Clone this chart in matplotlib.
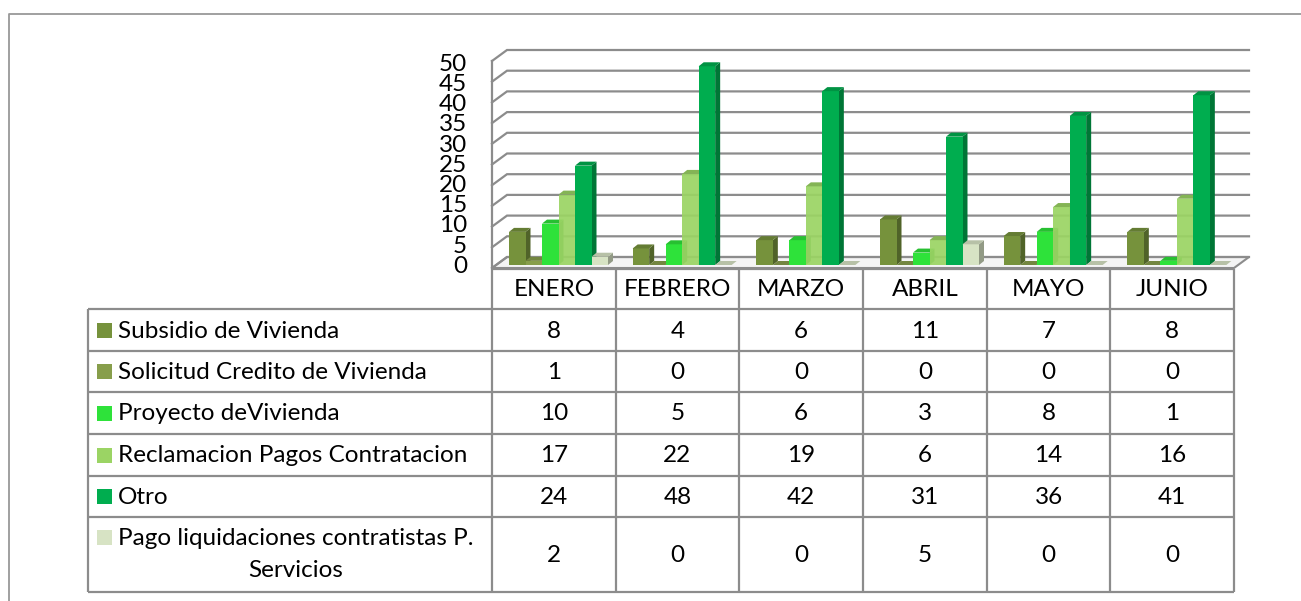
import matplotlib.pyplot as plt
from matplotlib.patches import Polygon, Rectangle
import numpy as np

plt.rcParams['font.family'] = ['Lato', 'DejaVu Sans']

meses = ['ENERO', 'FEBRERO', 'MARZO', 'ABRIL', 'MAYO', 'JUNIO']
series = ['Subsidio de Vivienda', 'Solicitud Credito de Vivienda', 'Proyecto deVivienda',
          'Reclamacion Pagos Contratacion', 'Otro', 'Pago liquidaciones contratistas P.\nServicios']
subsidio = [8, 4, 6, 11, 7, 8]
solicitud = [1, 0, 0, 0, 0, 0]
proyecto = [10, 5, 6, 3, 8, 1]
reclamacion = [17, 22, 19, 6, 14, 16]
otro = [24, 48, 42, 31, 36, 41]
pago = [2, 0, 0, 5, 0, 0]
valores = [subsidio, solicitud, proyecto, reclamacion, otro, pago]
colores = ['#76923c', '#879e4b', '#2ee23a', '#9bd464', '#00ad4f', '#d7e3c4']
yticks = list(range(0, 55, 5))

W, H = 1301, 601
FS = 17.5
fig = plt.figure(figsize=(W / 100, H / 100), dpi=100)

# pixel layer for frame and data table
bg = fig.add_axes([0, 0, 1, 1])
bg.set_xlim(0, W)
bg.set_ylim(H, 0)
bg.axis('off')

GRIS = '#8c8c8c'
bg.plot([9, 9, W], [H, 14, 14], color='#999999', lw=1.3)

# chart area (front bar base at y=265px, columns 492..1234px)
x0px, x1px = 492, 1234
base_px = 265
uy = 4.14  # px per unit
ux = (x1px - x0px) / len(meses)
ax = fig.add_axes([x0px / W, (H - base_px) / H, (x1px - x0px) / W, 50 * uy / H])
ax.set_xlim(0, len(meses))
ax.set_ylim(0, 50)
ax.axis('off')

# wall geometry (converted from px)
wdx = 15 / ux
wdy_back = 8 / uy
wdy_front = -3 / uy
n = len(meses)

# floor
ax.add_patch(Polygon([(0, wdy_front), (n, wdy_front), (n + wdx, wdy_back), (wdx, wdy_back)],
                     closed=True, fc='#f4f4f4', ec=GRIS, lw=1.5, clip_on=False, zorder=1))
for v in yticks:
    ax.plot([0, wdx, n + wdx], [v + wdy_front, v + wdy_back, v + wdy_back],
            color=GRIS, lw=1.6, clip_on=False, zorder=1, solid_joinstyle='miter')
ax.plot([0, 0], [wdy_front, 50 + wdy_front], color=GRIS, lw=1.6, clip_on=False, zorder=1)

for v in yticks:
    ax.text(-25 / ux, v * 0.975 - 0.3, str(v), ha='right', va='center', fontsize=FS,
            color='black', clip_on=False)


def oscurecer(c, f):
    r, g, b = plt.matplotlib.colors.to_rgb(c)
    return (r * f, g * f, b * f)


bw = 16.5 / ux
off = 17 / ux
ddx = 5 / ux
ddy = 4 / uy
for c in range(n):
    for i, vals in enumerate(valores):
        v = vals[c]
        x = c + off + i * bw
        z = 3 + i
        if v > 0:
            ax.add_patch(Polygon([(x + bw, 0), (x + bw + ddx, ddy), (x + bw + ddx, v + ddy), (x + bw, v)],
                                 closed=True, fc=oscurecer(colores[i], 0.68), ec='none', clip_on=False, zorder=z))
            ax.add_patch(Rectangle((x, 0), bw, v, fc=colores[i], ec='none', clip_on=False, zorder=z,
                                   alpha=0.93 if i == 3 else 1))
        ax.add_patch(Polygon([(x, v), (x + bw, v), (x + bw + ddx, v + ddy), (x + ddx, v + ddy)],
                             closed=True, fc=oscurecer(colores[i], 0.85), ec='none', clip_on=False, zorder=z))

# data table
filas = [269, 309, 351, 392, 434, 476, 517, 592]
lab_x = 88
cols = [x0px + k * ux for k in range(n + 1)]
kw = dict(color=GRIS, lw=1.6, solid_capstyle='butt')
bg.plot([x0px, x1px], [filas[0], filas[0]], **kw)
for y in filas[1:]:
    bg.plot([lab_x, x1px], [y, y], **kw)
for xc in cols:
    bg.plot([xc, xc], [filas[0], filas[-1]], **kw)
bg.plot([lab_x, lab_x], [filas[1], filas[-1]], **kw)

for k, m in enumerate(meses):
    bg.text((cols[k] + cols[k + 1]) / 2, (filas[0] + filas[1]) / 2 + 1, m,
            ha='center', va='center', fontsize=FS)

for i, (nombre, vals) in enumerate(zip(series, valores)):
    ytop, ybot = filas[i + 1], filas[i + 2]
    yc = (ytop + ybot) / 2
    if '\n' in nombre:
        ysq = ytop + 20
        bg.text(118, yc, nombre, ha='left', va='center', fontsize=FS,
                multialignment='center', linespacing=1.6)
    else:
        ysq = yc
        bg.text(118, yc + 1, nombre, ha='left', va='center', fontsize=FS)
    bg.add_patch(Rectangle((97, ysq - 7.5), 15, 15, fc=colores[i], ec='none'))
    for k in range(n):
        bg.text((cols[k] + cols[k + 1]) / 2, yc + 1, str(vals[k]), ha='center', va='center', fontsize=FS)

fig.savefig('out.png', dpi=100)
